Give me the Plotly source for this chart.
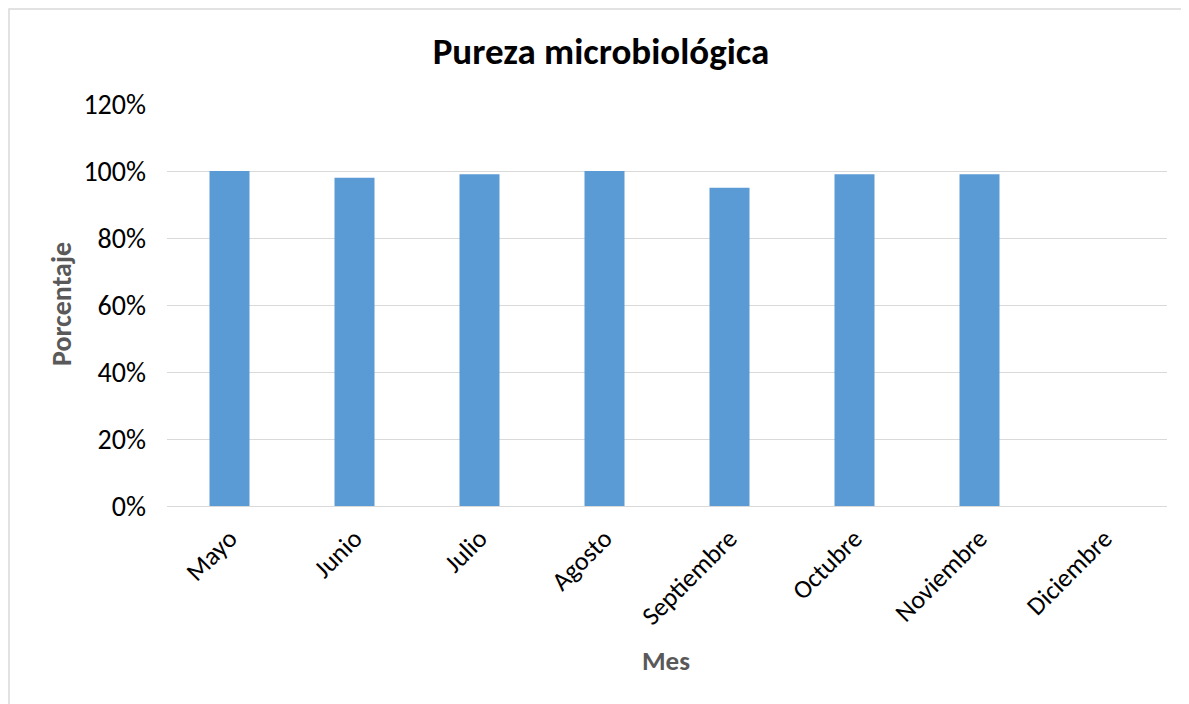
import plotly.graph_objects as go

meses = ["Mayo", "Junio", "Julio", "Agosto", "Septiembre", "Octubre", "Noviembre", "Diciembre"]
pureza = [1.00, 0.98, 0.99, 1.00, 0.95, 0.99, 0.99, None]
y_ticks = [0, 0.2, 0.4, 0.6, 0.8, 1.0, 1.2]

FONT = "Calibri, Carlito, Lato, sans-serif"

# page body has an 8px margin; figure is sized/offset to compensate
OFF = 8
W, H = 1189 - OFF, 704 - OFF
L, R, T, B = 167 - OFF, 22, 104 - OFF, 198
PW, PH = 1000, 402

def px_x(x):
    return (x - 167) / PW

def px_y(y):
    return (506 - y) / PH

fig = go.Figure()
fig.add_trace(go.Bar(x=meses, y=pureza, marker=dict(color="#5B9BD5", line=dict(width=0)),
                     hoverinfo="x+y"))

fig.update_layout(
    width=W, height=H,
    margin=dict(l=L, r=R, t=T, b=B, pad=0),
    paper_bgcolor="white", plot_bgcolor="white",
    bargap=0.68,
    showlegend=False,
    font=dict(family=FONT, color="#000000", size=26),
    title=dict(text="<b>Pureza microbiológica</b>", x=(601 - OFF) / W, xanchor="center",
               xref="container", yref="container", y=1 - (51 - OFF) / H, yanchor="middle",
               font=dict(family=FONT, size=37, color="#000000")),
    xaxis=dict(tickangle=-45, showgrid=False, showline=True, linecolor="#D9D9D9", linewidth=1,
               ticks="", ticklabelstandoff=6, tickfont=dict(size=26, color="#000000"),
               fixedrange=True),
    yaxis=dict(range=[0, 1.2], tickvals=y_ticks, tickformat=".0%", showgrid=True,
               gridcolor="#D9D9D9", gridwidth=1, zeroline=False, showline=False,
               ticks="", ticklabelstandoff=20, tickfont=dict(size=28, color="#000000"),
               fixedrange=True),
    annotations=[
        dict(text="<b>Mes</b>", x=px_x(666), y=px_y(660), xref="paper", yref="paper",
             showarrow=False, font=dict(family=FONT, size=27, color="#595959"),
             xanchor="center", yanchor="middle"),
        dict(text="<b>Porcentaje</b>", x=px_x(61), y=px_y(304), xref="paper", yref="paper",
             showarrow=False, textangle=-90, font=dict(family=FONT, size=28, color="#595959"),
             xanchor="center", yanchor="middle"),
    ],
    shapes=[
        dict(type="rect", xref="paper", yref="paper",
             x0=px_x(9), x1=px_x(1200),
             y0=px_y(720), y1=px_y(9),
             line=dict(color="#D9D9D9", width=1.5), fillcolor="rgba(0,0,0,0)", layer="below"),
    ],
)

fig.write_html("out.html")
